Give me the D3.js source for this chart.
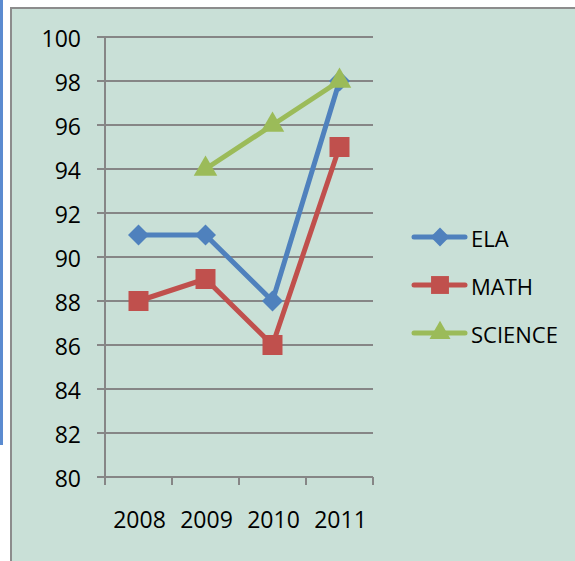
<!DOCTYPE html>
<meta charset="utf-8">
<body style="margin:0;background-color:white;">
<svg width="575" height="561"></svg>
<script src="https://d3js.org/d3.v7.min.js"></script>
<script>

var years = ["2008", "2009", "2010", "2011"];
var yTicks = [80, 82, 84, 86, 88, 90, 92, 94, 96, 98, 100];
var elaScores = [91, 91, 88, 98];
var mathScores = [88, 89, 86, 95];
var scienceScores = [null, 94, 96, 98];

var series = [
  {name: "ELA", values: elaScores, color: "#4f81bd", shape: "diamond"},
  {name: "MATH", values: mathScores, color: "#c0504d", shape: "square"},
  {name: "SCIENCE", values: scienceScores, color: "#9bbb59", shape: "triangle"}
];

var svg = d3.select("svg");
var font = "'Open Sans', 'Liberation Sans', sans-serif";

function markerPath(shape, big) {
  var k = big ? 1 : 0.8;
  if (shape == "square") return d3.symbol().type(d3.symbolSquare).size(400 * k)();
  if (shape == "diamond") return d3.symbol().type(d3.symbolSquare).size(220 * k)();
  return d3.symbol().type(d3.symbolTriangle).size(240 * k)();
}
function markerRot(shape) { return shape == "diamond" ? ' rotate(45)' : ''; }

// blue margin line on the left
svg.append('rect').attr('x', 0).attr('y', 0).attr('width', 3).attr('height', 445).attr('fill', '#5b8bd0');

// chart area box (runs off the right and bottom)
svg.append('rect')
   .attr('x', 11).attr('y', 8).attr('width', 600).attr('height', 600)
   .attr('fill', '#c9e0d7')
   .attr('stroke', '#8c8c8c').attr('stroke-width', 2);

var x = d3.scaleBand().domain(years).range([105, 373]);
var y = d3.scaleLinear().domain([80, 100]).range([477, 37]);

var grid = svg.append('g');
yTicks.forEach(function(t) {
  grid.append('line')
      .attr('x1', 97).attr('x2', 373)
      .attr('y1', y(t)).attr('y2', y(t))
      .attr('stroke', '#868686').attr('stroke-width', 2);
  grid.append('text')
      .attr('x', 81).attr('y', y(t) + 1)
      .attr('text-anchor', 'end').attr('dominant-baseline', 'central')
      .style('font-family', font).style('font-size', '23px')
      .text(t);
});

// y axis line
grid.append('line').attr('x1', 105).attr('x2', 105).attr('y1', y(100)).attr('y2', 485)
    .attr('stroke', '#868686').attr('stroke-width', 2);

// x ticks and labels
years.forEach(function(yr) {
  var xe = x(yr) + x.bandwidth();
  grid.append('line').attr('x1', xe).attr('x2', xe).attr('y1', 477).attr('y2', 485)
      .attr('stroke', '#868686').attr('stroke-width', 2);
  grid.append('text')
      .attr('x', x(yr) + x.bandwidth() / 2 + 1).attr('y', 528)
      .attr('text-anchor', 'middle')
      .style('font-family', font).style('font-size', '23px')
      .text(yr);
});

var line = d3.line()
  .defined(function(d) { return d != null; })
  .x(function(d, i) { return x(years[i]) + x.bandwidth() / 2; })
  .y(function(d) { return y(d); });

var marks = svg.append('g');
series.forEach(function(s) {
  marks.append('path').attr('d', line(s.values))
       .attr('fill', 'none').attr('stroke', s.color).attr('stroke-width', 5)
       .attr('stroke-linejoin', 'round');
  s.values.forEach(function(v, i) {
    if (v == null) return;
    marks.append('path')
         .attr('d', markerPath(s.shape, true))
         .attr('transform', 'translate(' + (x(years[i]) + x.bandwidth() / 2) + ',' + y(v) + ')' + markerRot(s.shape))
         .attr('fill', s.color);
  });
});

// legend
var legend = svg.append('g');
series.forEach(function(s, i) {
  var ly = 237 + i * 48;
  legend.append('line').attr('x1', 414).attr('x2', 465).attr('y1', ly).attr('y2', ly)
        .attr('stroke', s.color).attr('stroke-width', 5).attr('stroke-linecap', 'round');
  legend.append('path').attr('d', markerPath(s.shape, false))
        .attr('transform', 'translate(440,' + ly + ')' + markerRot(s.shape)).attr('fill', s.color);
  legend.append('text').attr('x', 471).attr('y', ly + 1)
        .attr('dominant-baseline', 'central')
        .style('font-family', font).style('font-size', '22px')
        .text(s.name);
});

</script>
</body>
